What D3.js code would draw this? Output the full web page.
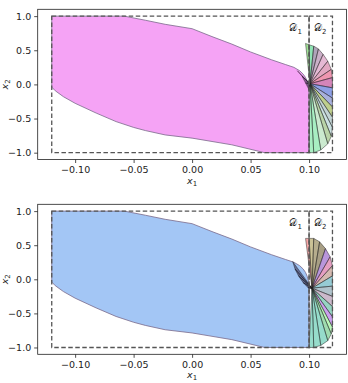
<!DOCTYPE html>
<html>
<head>
<meta charset="utf-8">
<script src="https://cdn.jsdelivr.net/npm/d3@7.9.0/dist/d3.min.js"></script>
<style>
  body { margin: 0; background: #fff; }
  text { font-family: "DejaVu Sans", sans-serif; }
</style>
</head>
<body>
<svg id="chart" width="348" height="383"></svg>
<script>
// tick labels
const xTicks = [-0.10, -0.05, 0.00, 0.05, 0.10];
const yTicks = [-1.0, -0.5, 0.0, 0.5, 1.0];

// main reachable region (shared outline)
const regionX = [-0.12, -0.058, -0.04, -0.023, 0.0, 0.017, 0.034, 0.05, 0.068, 0.08, 0.087, 0.092, 0.095, 0.097, 0.0985, 0.0995, 0.1,
                 0.1, 0.062, 0.034, 0.017, 0.0, -0.023, -0.04, -0.05, -0.065, -0.082, -0.10, -0.11, -0.117, -0.12];
const regionY = [1.0, 1.0, 0.94, 0.88, 0.816, 0.70, 0.59, 0.475, 0.36, 0.29, 0.25, 0.2, 0.15, 0.1, 0.04, -0.03, -0.1,
                 -1.0, -1.0, -0.885, -0.836, -0.787, -0.74, -0.676, -0.63, -0.545, -0.42, -0.277, -0.18, -0.093, -0.04];

// fan pieces in D2, top panel
const fanTopCenter = [0.1008, 0.01];
const fanTopX = [0.097, 0.1, 0.104, 0.108, 0.112, 0.116, 0.119, 0.12, 0.12, 0.12, 0.12, 0.12, 0.12, 0.119, 0.116, 0.11, 0.104, 0.1];
const fanTopY = [0.6, 0.58, 0.56, 0.52, 0.44, 0.34, 0.22, 0.1, -0.05, -0.2, -0.33, -0.48, -0.63, -0.76, -0.87, -0.96, -1.0, -1.0];
const fanTopColors = ["#55cc44", "#33cc77", "#6e5a80", "#a0709a", "#d080b0", "#c86090", "#e04070", "#b02080",
                      "#3050d0", "#6070c0", "#88a830", "#90b0b0", "#a0c8c8", "#80b060", "#a0d8a8", "#60e090", "#60e090"];

// fan pieces in D2, bottom panel
const fanBotCenter = [0.1025, -0.13];
const fanBotX = [0.097, 0.1, 0.104, 0.109, 0.114, 0.118, 0.12, 0.12, 0.12, 0.12, 0.12, 0.12, 0.12, 0.119, 0.116, 0.11, 0.104, 0.1];
const fanBotY = [0.6, 0.6, 0.6, 0.55, 0.45, 0.33, 0.2, 0.05, -0.1, -0.25, -0.4, -0.55, -0.7, -0.8, -0.9, -0.97, -1.0, -1.0];
const fanBotColors = ["#f06060", "#a09040", "#7a6a30", "#605020", "#8040c0", "#d05090", "#b08070", "#40a0b0",
                      "#7090a0", "#a080a0", "#40b090", "#a050e0", "#80f080", "#50c070", "#40c0a0", "#40c0a0", "#40c0a0"];

// dark overlap in D1 near the corner
const blobTopX = [0.09, 0.094, 0.097, 0.1, 0.1];
const blobTopY = [0.2, 0.12, 0.02, -0.08, 0.05];
const blobBotX = [0.086, 0.088, 0.091, 0.095, 0.099, 0.1];
const blobBotY = [0.26, 0.15, 0.05, -0.05, -0.12, -0.14];

const W = 348;
const margin = {left: 37.7, right: 1.5};
const panels = [
  {top: 9.3, bottom: 159.5, fill: "#f5a3f5", fan: [fanTopCenter, fanTopX, fanTopY, fanTopColors], blob: [blobTopX, blobTopY, fanTopCenter]},
  {top: 204.3, bottom: 354.3, fill: "#a3c6f5", fan: [fanBotCenter, fanBotX, fanBotY, fanBotColors], blob: [blobBotX, blobBotY, fanBotCenter]}
];

const svg = d3.select("#chart");
const x = d3.scaleLinear().domain([-0.132, 0.132]).range([margin.left, W - margin.right]);

panels.forEach(p => {
  const y = d3.scaleLinear().domain([-1.1, 1.1]).range([p.bottom, p.top]);
  const g = svg.append("g");
  const line = d3.line().x(d => x(d[0])).y(d => y(d[1]));

  // main region
  const pts = regionX.map((v, i) => [v, regionY[i]]);
  g.append("path")
    .attr("d", line(pts) + "Z")
    .attr("fill", p.fill)
    .attr("stroke", "#7a6a8a")
    .attr("stroke-width", 0.8);

  // dark pieces around the corner
  const [bx, by, bc] = p.blob;
  for (let i = 0; i < bx.length - 1; i++) {
    g.append("path")
      .attr("d", line([bc, [bx[i], by[i]], [bx[i + 1], by[i + 1]]]) + "Z")
      .attr("fill", "#302040")
      .attr("fill-opacity", 0.55)
      .attr("stroke", "#000")
      .attr("stroke-opacity", 0.7)
      .attr("stroke-width", 0.5);
  }

  // fan wedges
  const [c, fx, fy, cols] = p.fan;
  for (let i = 0; i < fx.length - 1; i++) {
    g.append("path")
      .attr("d", line([c, [fx[i], fy[i]], [fx[i + 1], fy[i + 1]]]) + "Z")
      .attr("fill", cols[i])
      .attr("fill-opacity", 0.55)
      .attr("stroke", "#222")
      .attr("stroke-opacity", 0.8)
      .attr("stroke-width", 0.6);
  }

  // dashed domains
  [[-0.12, 0.1], [0.1, 0.12]].forEach(([a, b]) => {
    g.append("rect")
      .attr("x", x(a)).attr("y", y(1))
      .attr("width", x(b) - x(a)).attr("height", y(-1) - y(1))
      .attr("fill", "none")
      .attr("stroke", "#555")
      .attr("stroke-width", 1.3)
      .attr("stroke-dasharray", "4.5,2.5");
  });

  // domain labels
  [["1", 0.0885], ["2", 0.1095]].forEach(([s, xv]) => {
    const t = g.append("text")
      .attr("x", x(xv)).attr("y", y(0.78))
      .attr("text-anchor", "middle")
      .attr("font-size", 10)
      .attr("font-family", "DejaVu Sans, sans-serif")
      .attr("fill", "#222");
    t.append("tspan").text("𝒟");
    t.append("tspan").attr("font-size", 7).attr("dy", 2.5).text(s);
  });

  // axes
  const xAxis = g.append("g")
    .attr("transform", `translate(0,${p.bottom})`)
    .call(d3.axisBottom(x).tickValues(xTicks).tickFormat(d3.format(".2f")).tickSize(3.5).tickSizeOuter(0));
  const yAxis = g.append("g")
    .attr("transform", `translate(${margin.left},0)`)
    .call(d3.axisLeft(y).tickValues(yTicks).tickFormat(d3.format(".1f")).tickSize(3.5).tickSizeOuter(0));
  [xAxis, yAxis].forEach(a => {
    a.select(".domain").remove();
    a.selectAll("text").attr("font-size", 9.5).attr("fill", "#222").attr("font-family", "DejaVu Sans, sans-serif");
    a.selectAll("line").attr("stroke", "#222").attr("stroke-width", 0.8);
  });

  // frame
  g.append("rect")
    .attr("x", margin.left).attr("y", p.top)
    .attr("width", W - margin.right - margin.left).attr("height", p.bottom - p.top)
    .attr("fill", "none").attr("stroke", "#222").attr("stroke-width", 0.8);

  // axis titles
  const xl = g.append("text")
    .attr("x", x(0)).attr("y", p.bottom + 24)
    .attr("text-anchor", "middle").attr("font-size", 9.5).attr("fill", "#222")
    .attr("font-family", "DejaVu Serif, serif").attr("font-style", "italic");
  xl.append("tspan").text("x");
  xl.append("tspan").attr("font-size", 7).attr("dy", 2).attr("font-style", "normal").text("1");

  const yl = g.append("text")
    .attr("transform", `translate(8,${y(0)}) rotate(-90)`)
    .attr("text-anchor", "middle").attr("font-size", 9.5).attr("fill", "#222")
    .attr("font-family", "DejaVu Serif, serif").attr("font-style", "italic");
  yl.append("tspan").text("x");
  yl.append("tspan").attr("font-size", 7).attr("dy", 2).attr("font-style", "normal").text("2");
});
</script>
</body>
</html>
